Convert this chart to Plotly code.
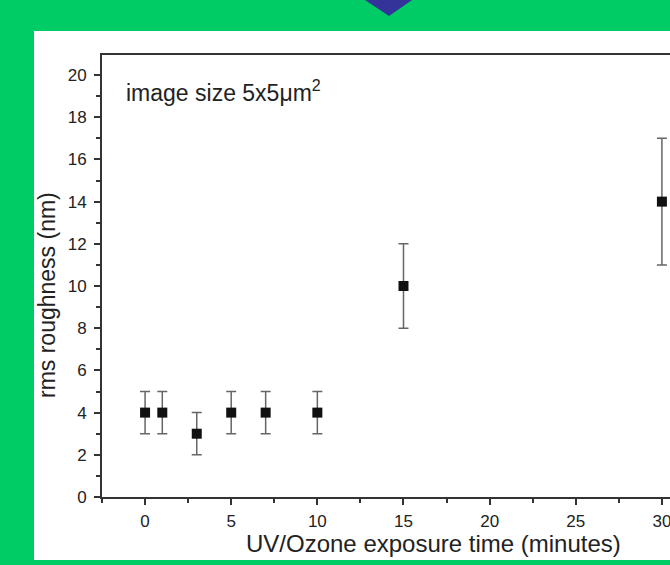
import plotly.graph_objects as go

exposure_min = [0, 1, 3, 5, 7, 10, 15, 30]
roughness_nm = [4, 4, 3, 4, 4, 4, 10, 14]
roughness_err = [1, 1, 1, 1, 1, 1, 2, 3]
x_ticks = [0, 5, 10, 15, 20, 25, 30]
y_ticks = [0, 2, 4, 6, 8, 10, 12, 14, 16, 18, 20]

# figure is wider than the 670 px window: the reference chart is cropped at the right
W, H = 720, 565
L, R, T, B = 102, 0, 55, 68
pw, ph = W - L - R, H - T - B

def px(x):
    return (x - L) / pw

def py(y):
    return (H - B - y) / ph

FONT = "Liberation Sans, Arial, sans-serif"

fig = go.Figure()
fig.add_trace(go.Scatter(
    x=exposure_min, y=roughness_nm, mode="markers",
    marker=dict(symbol="square", size=10, color="#111111"),
    error_y=dict(type="data", array=roughness_err, visible=True,
                 color="#666666", thickness=1.5, width=5),
    showlegend=False, cliponaxis=False,
))

fig.add_shape(type="rect", xref="paper", yref="paper",
              x0=px(34), x1=px(W + 20), y0=py(560), y1=py(31),
              fillcolor="white", line=dict(width=0), layer="below")
fig.add_shape(type="path", xref="paper", yref="paper",
              path=f"M {px(362)} {py(-2)} L {px(415)} {py(-2)} L {px(389)} {py(16)} Z",
              fillcolor="#333399", line=dict(width=0), layer="below")

fig.add_annotation(xref="paper", yref="paper", x=px(124), y=py(91),
                   xanchor="left", yanchor="middle", showarrow=False,
                   text="image size 5x5\u03bcm<sup>2</sup>",
                   font=dict(family=FONT, size=23, color="#222222"))
fig.add_annotation(xref="paper", yref="paper", x=px(433), y=py(543),
                   xanchor="center", yanchor="middle", showarrow=False,
                   text="UV/Ozone exposure time (minutes)",
                   font=dict(family=FONT, size=24, color="#222222"))
fig.add_annotation(xref="paper", yref="paper", x=px(47), y=py(295),
                   xanchor="center", yanchor="middle", showarrow=False,
                   textangle=-90,
                   text="rms roughness (nm)",
                   font=dict(family=FONT, size=23, color="#222222"))

fig.update_layout(
    width=W, height=H,
    margin=dict(l=L, r=R, t=T, b=B),
    paper_bgcolor="#00CC66", plot_bgcolor="white",
    font=dict(family=FONT, color="#222222"),
    xaxis=dict(range=[-2.5, (W - 146) / 17.2], tickvals=x_ticks,
               showgrid=False, zeroline=False, showline=True, mirror=True,
               linecolor="#333333", linewidth=2,
               ticks="outside", ticklen=6, tickwidth=1.5, tickcolor="#333333",
               minor=dict(dtick=2.5, tick0=-2.5, ticks="outside", ticklen=4,
                          tickwidth=1.5, tickcolor="#333333"),
               tickfont=dict(size=17), ticklabelstandoff=2),
    yaxis=dict(range=[0, 20.95], tickvals=y_ticks,
               showgrid=False, zeroline=False, showline=True, mirror=False,
               linecolor="#333333", linewidth=2,
               ticks="outside", ticklen=6, tickwidth=1.5, tickcolor="#333333",
               minor=dict(dtick=1, tick0=1, ticks="outside", ticklen=4,
                          tickwidth=1.5, tickcolor="#333333"),
               tickfont=dict(size=17), ticklabelstandoff=4),
)

fig.write_html("out.html", config={"displayModeBar": False},
               post_script="document.body.style.margin='0';document.body.style.overflow='hidden';")
